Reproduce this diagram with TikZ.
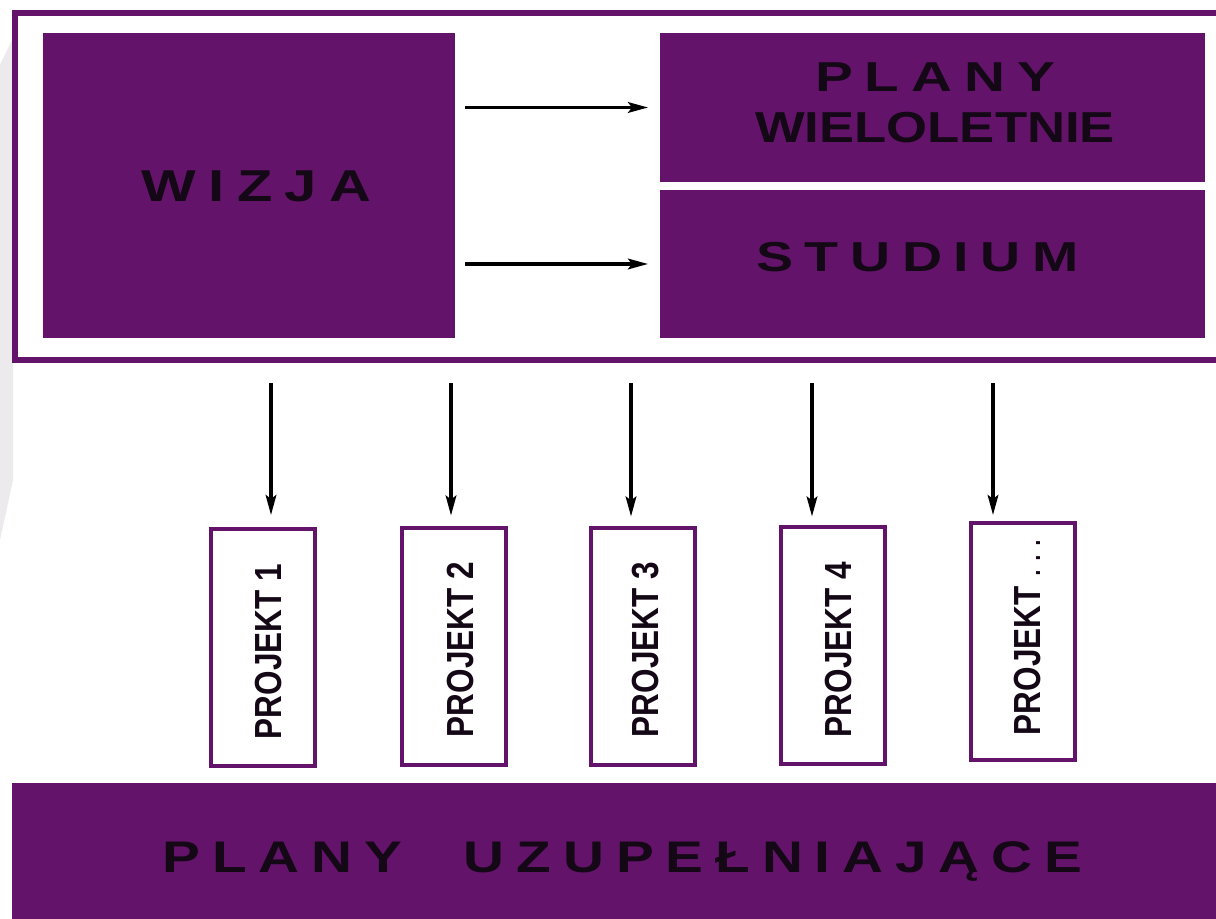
\documentclass[tikz,border=0pt]{standalone}
\usepackage{fontspec}
\usepackage{graphicx}
\setmainfont{Liberation Sans}
\newfontfamily\spacedfont[LetterSpace=21]{Liberation Sans}
\usetikzlibrary{arrows.meta}
\definecolor{purp}{RGB}{99,20,106}
\definecolor{inkc}{RGB}{20,8,22}
\definecolor{wmark}{RGB}{236,234,237}
\newcommand\spacedlbl[3]{\resizebox{#1}{\height}{\spacedfont\bfseries\fontsize{#2}{#2}\selectfont #3}}
\newcommand\plainlbl[3]{\resizebox{#1}{\height}{\bfseries\fontsize{#2}{#2}\selectfont #3}}
\newcommand\projlbl[1]{\scalebox{1.2}[1]{\rotatebox{90}{\bfseries\fontsize{23.6pt}{24pt}\selectfont #1}}}
\begin{document}
\begin{tikzpicture}[x=0.75pt,y=-0.75pt,
  box/.style={fill=purp, draw=none, inner sep=0pt, outer sep=0pt},
  pbox/.style={draw=purp, line width=3pt, fill=white, inner sep=0pt, minimum width=78pt, minimum height=177.75pt},
  lbl/.style={inner sep=0pt, outer sep=0pt, text=inkc, anchor=base},
  plbl/.style={inner sep=0pt, outer sep=0pt, text=inkc, anchor=south},
  arr/.style={draw=black, line width=2.4pt, -{Stealth[length=15pt,width=8pt,inset=3pt]}}]
\clip (0,0) rectangle (1216,919);
\fill[white] (0,0) rectangle (1216,919);
\fill[wmark] (0,65) -- (13,38) -- (13,480) -- (0,540) -- cycle;
% frame
\node[draw=purp, line width=4.5pt, inner sep=0pt, minimum width=907.5pt, minimum height=260.25pt] (frame) at (620,186.5) {};
% boxes
\node[box, minimum width=309pt, minimum height=228.75pt] (wizja) at (249,185.5) {};
\node[box, minimum width=408.75pt, minimum height=111.75pt] (plany) at (932.5,107.5) {};
\node[box, minimum width=408.75pt, minimum height=111pt] (studium) at (932.5,264) {};
\node[box, minimum width=913.5pt, minimum height=110.25pt] (uzup) at (621,856.5) {};
% labels
\node[lbl] (wizjat) at (256.5,202) {\spacedlbl{171.75pt}{33.5pt}{WIZJA}};
\node[lbl] (planyt) at (935,92) {\spacedlbl{180pt}{31.4pt}{PLANY}};
\node[lbl] (wielt) at (935,143) {\plainlbl{270pt}{32.5pt}{WIELOLETNIE}};
\node[lbl] (studt) at (917.5,272) {\spacedlbl{242.25pt}{31.4pt}{STUDIUM}};
\node[lbl] (uzupt) at (622.5,872) {\spacedlbl{690pt}{33.2pt}{PLANY\hspace{0.6em} UZUPEŁNIAJĄCE}};
% project boxes
\node[pbox] (p1) at (263,647.5) {};
\node[pbox] (p2) at (453.5,646) {};
\node[pbox] (p3) at (643,646) {};
\node[pbox] (p4) at (833,645) {};
\node[pbox] (p5) at (1022.5,641.5) {};
\node[plbl] (t1) at (268.5,739) {\projlbl{PROJEKT 1}};
\node[plbl] (t2) at (460,737) {\projlbl{PROJEKT 2}};
\node[plbl] (t3) at (646,737) {\projlbl{PROJEKT 3}};
\node[plbl] (t4) at (838,737) {\projlbl{PROJEKT 4}};
\node[plbl] (t5) at (1027,735) {\projlbl{PROJEKT {\mdseries .\kern0.2em.\kern0.2em.}}};
% arrows
\draw[arr, shorten <=7.5pt, shorten >=9pt] (wizja.east |- plany.west) -- (plany.west);
\draw[arr, shorten <=7.5pt, shorten >=9pt] (wizja.east |- studium.west) -- (studium.west);
\foreach \i/\x/\s in {1/271/9pt, 2/451/7.5pt, 3/631/6.75pt, 4/812/6pt, 5/993/4.5pt}{
  \coordinate (c\i) at (\x,0);
  \draw[arr, shorten <=15pt, shorten >=\s] (c\i |- frame.south) -- (c\i |- p\i.north);
}
\end{tikzpicture}
\end{document}
